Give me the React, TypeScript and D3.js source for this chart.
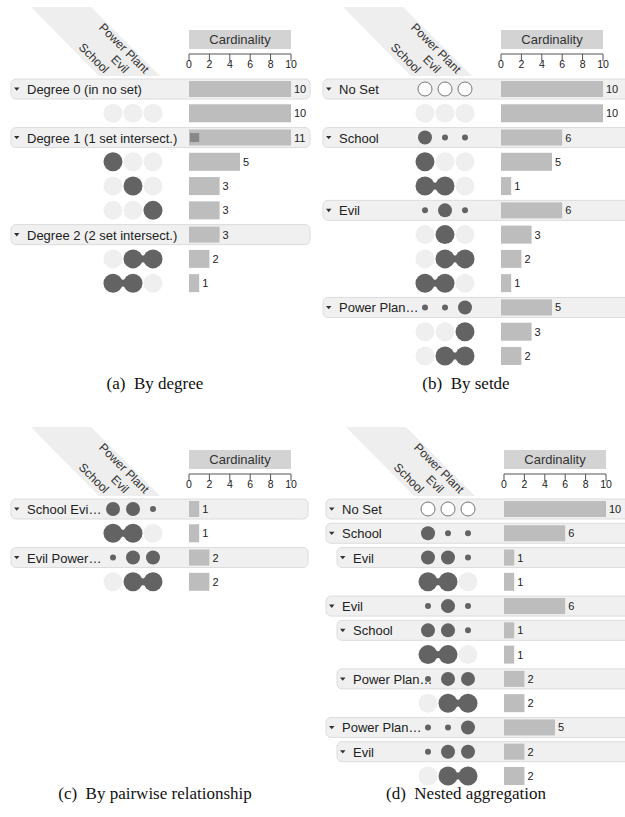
import React from "react";
import * as d3 from "d3";

// ---- data ----
const setNames = ["School", "Evil", "Power Plant"];
const axisTicks = [0, 2, 4, 6, 8, 10];
const maxCard = 10;

type Row = {
  kind: "group" | "subset";
  label?: string;
  sets?: number[]; // membership flags per set
  value: number;
  level?: number;
};

// (a) By degree
const degreeRows: Row[] = [
  { kind: "group", label: "Degree 0 (in no set)", value: 10 },
  { kind: "subset", sets: [0, 0, 0], value: 10 },
  { kind: "group", label: "Degree 1 (1 set intersect.)", value: 11 },
  { kind: "subset", sets: [1, 0, 0], value: 5 },
  { kind: "subset", sets: [0, 1, 0], value: 3 },
  { kind: "subset", sets: [0, 0, 1], value: 3 },
  { kind: "group", label: "Degree 2 (2 set intersect.)", value: 3 },
  { kind: "subset", sets: [0, 1, 1], value: 2 },
  { kind: "subset", sets: [1, 1, 0], value: 1 },
];

// (b) By set
const setRows: Row[] = [
  { kind: "group", label: "No Set", sets: [0, 0, 0], value: 10 },
  { kind: "subset", sets: [0, 0, 0], value: 10 },
  { kind: "group", label: "School", sets: [1, 0, 0], value: 6 },
  { kind: "subset", sets: [1, 0, 0], value: 5 },
  { kind: "subset", sets: [1, 1, 0], value: 1 },
  { kind: "group", label: "Evil", sets: [0, 1, 0], value: 6 },
  { kind: "subset", sets: [0, 1, 0], value: 3 },
  { kind: "subset", sets: [0, 1, 1], value: 2 },
  { kind: "subset", sets: [1, 1, 0], value: 1 },
  { kind: "group", label: "Power Plan…", sets: [0, 0, 1], value: 5 },
  { kind: "subset", sets: [0, 0, 1], value: 3 },
  { kind: "subset", sets: [0, 1, 1], value: 2 },
];

// (c) By pairwise relationship
const pairRows: Row[] = [
  { kind: "group", label: "School Evi…", sets: [1, 1, 0], value: 1 },
  { kind: "subset", sets: [1, 1, 0], value: 1 },
  { kind: "group", label: "Evil Power…", sets: [0, 1, 1], value: 2 },
  { kind: "subset", sets: [0, 1, 1], value: 2 },
];

// (d) Nested aggregation
const nestedRows: Row[] = [
  { kind: "group", label: "No Set", sets: [0, 0, 0], value: 10, level: 0 },
  { kind: "group", label: "School", sets: [1, 0, 0], value: 6, level: 0 },
  { kind: "group", label: "Evil", sets: [1, 1, 0], value: 1, level: 1 },
  { kind: "subset", sets: [1, 1, 0], value: 1 },
  { kind: "group", label: "Evil", sets: [0, 1, 0], value: 6, level: 0 },
  { kind: "group", label: "School", sets: [1, 1, 0], value: 1, level: 1 },
  { kind: "subset", sets: [1, 1, 0], value: 1 },
  { kind: "group", label: "Power Plan…", sets: [0, 1, 1], value: 2, level: 1 },
  { kind: "subset", sets: [0, 1, 1], value: 2 },
  { kind: "group", label: "Power Plan…", sets: [0, 0, 1], value: 5, level: 0 },
  { kind: "group", label: "Evil", sets: [0, 1, 1], value: 2, level: 1 },
  { kind: "subset", sets: [0, 1, 1], value: 2 },
];

const captions = ["(a)  By degree", "(b)  By setde", "(c)  By pairwise relationship", "(d)  Nested aggregation"];

// ---- styling ----
const sans = "Liberation Sans, Arial, sans-serif";
const dark = "#636363";
const light = "#efefef";
const barFill = "#bdbdbd";

const xScale = d3.scaleLinear().domain([0, maxCard]).range([189, 291]);
const colScale = d3.scalePoint<string>().domain(setNames).range([113, 153]);
const rowY = (i: number) => 89 + i * 24.27;

interface PanelProps {
  x: number;
  y: number;
  rows: Row[];
  right: number;
}

const Panel: React.FC<PanelProps> = ({ x, y, rows, right }) => {
  const c0 = colScale(setNames[0])!;
  const c2 = colScale(setNames[2])!;
  const header = `M${c0 - 82},7 L${c2 - 62},7 L${c2 + 7},76 L${c0 - 14},76 Z`;
  return (
    <g transform={`translate(${x},${y})`}>
      {/* diagonal set header */}
      <path d={header} fill="#eeeeee" />
      {setNames.map((s) => (
        <text
          key={s}
          transform={`translate(${colScale(s)! - 9},74) rotate(45)`}
          textAnchor="end"
          fontFamily={sans}
          fontSize={12}
          fill="#333"
        >
          {s}
        </text>
      ))}

      {/* cardinality header + axis */}
      <rect x={xScale(0)} y={30} width={xScale(maxCard) - xScale(0)} height={19} fill="#d3d3d3" />
      <text
        x={(xScale(0) + xScale(maxCard)) / 2}
        y={44}
        textAnchor="middle"
        fontFamily={sans}
        fontSize={13}
        fill="#333"
      >
        Cardinality
      </text>
      <line x1={xScale(0)} x2={xScale(maxCard)} y1={54} y2={54} stroke="#555" />
      {axisTicks.map((t) => (
        <g key={t}>
          <line x1={xScale(t)} x2={xScale(t)} y1={54} y2={61} stroke="#555" />
          <text x={xScale(t)} y={68} textAnchor="middle" fontFamily={sans} fontSize={10.5} fill="#222">
            {t}
          </text>
        </g>
      ))}

      {/* rows */}
      {rows.map((r, i) => {
        const cy = rowY(i);
        const isGroup = r.kind === "group";
        const barH = isGroup ? 16 : 18;
        const shown = Math.min(r.value, maxCard);
        const left = 11 + (r.level || 0) * 11;
        const members = (r.sets || []).map((m, k) => (m ? colScale(setNames[k])! : null)).filter((v) => v !== null) as number[];
        return (
          <g key={i}>
            {isGroup && (
              <g>
                <rect x={left} y={cy - 10} width={right - left} height={20} rx={5} fill="#f0f0f0" stroke="#dcdcdc" />
                <path d={`M${left + 3},${cy - 1.5} L${left + 8.5},${cy - 1.5} L${left + 5.75},${cy + 1.8} Z`} fill="#333" />
                <text x={left + 16} y={cy + 5} fontFamily={sans} fontSize={13} fill="#222">
                  {r.label}
                </text>
              </g>
            )}

            {/* matrix circles */}
            {isGroup && r.sets &&
              r.sets.map((m, k) => {
                const cx = colScale(setNames[k])!;
                const none = r.sets!.every((v) => !v);
                if (none)
                  return <circle key={k} cx={cx} cy={cy} r={7} fill="#fff" stroke="#777" strokeWidth={1} />;
                return <circle key={k} cx={cx} cy={cy} r={m ? 7 : 3} fill={dark} />;
              })}
            {!isGroup && (
              <g>
                {r.sets!.map((m, k) => (
                  <circle key={k} cx={colScale(setNames[k])!} cy={cy} r={9.5} fill={m ? dark : light} />
                ))}
                {members.length > 1 && (
                  <line
                    x1={d3.min(members)!}
                    x2={d3.max(members)!}
                    y1={cy}
                    y2={cy}
                    stroke={dark}
                    strokeWidth={7}
                  />
                )}
              </g>
            )}

            {/* cardinality bar */}
            <rect x={xScale(0)} y={cy - barH / 2} width={xScale(shown) - xScale(0)} height={barH} fill={barFill} />
            {r.value > maxCard && (
              <rect
                x={xScale(0) + 1}
                y={cy - 4.5}
                width={xScale(r.value - maxCard) - xScale(0) - 1}
                height={9}
                fill="#888"
              />
            )}
            <text x={xScale(shown) + 3} y={cy + 4} fontFamily={sans} fontSize={11} fill="#222">
              {r.value}
            </text>
          </g>
        );
      })}
    </g>
  );
};

export default function App() {
  const serif = "Liberation Serif, Times New Roman, serif";
  return (
    <svg width={625} height={817} style={{ position: "absolute", left: 0, top: 0, background: "#fff" }}>
      <Panel x={0} y={0} rows={degreeRows} right={310} />
      <Panel x={312} y={0} rows={setRows} right={318} />
      <Panel x={0} y={420} rows={pairRows} right={308} />
      <Panel x={315} y={420} rows={nestedRows} right={315} />
      {captions.map((c, i) => (
        <text
          key={c}
          x={i % 2 === 0 ? 155 : 466}
          y={i < 2 ? 389 : 799}
          textAnchor="middle"
          fontFamily={serif}
          fontSize={17}
          fill="#111"
          style={{ whiteSpace: "pre" }}
        >
          {c}
        </text>
      ))}
    </svg>
  );
}
